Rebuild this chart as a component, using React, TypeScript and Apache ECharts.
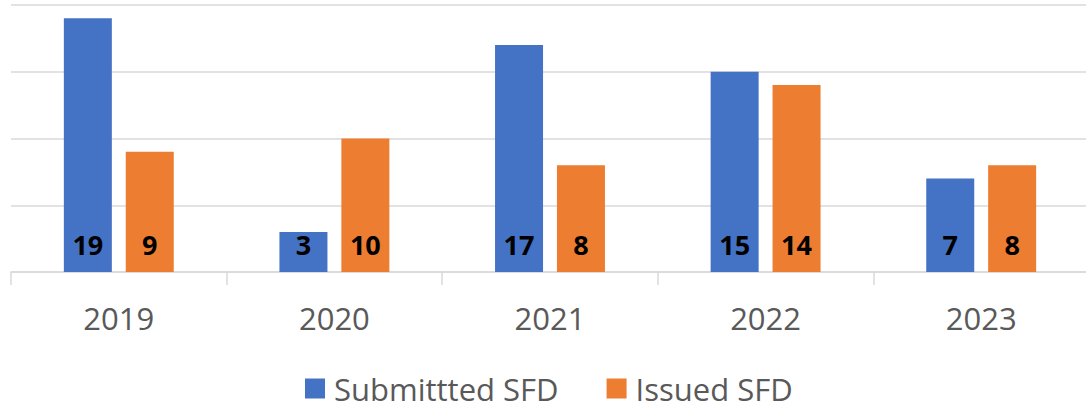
import React, { useEffect, useRef } from "react";
import * as echarts from "echarts";

const years = ["2019", "2020", "2021", "2022", "2023"];
const submitted = [19, 3, 17, 15, 7];
const issued = [9, 10, 8, 14, 8];

export default function App() {
  const ref = useRef<HTMLDivElement>(null);
  useEffect(() => {
    if (!ref.current) return;
    const chart = echarts.init(ref.current, undefined, { renderer: "svg" });
    const labelStyle = {
      show: true,
      position: "insideBottom" as const,
      distance: 14,
      color: "#000000",
      fontWeight: "bold" as const,
      fontSize: 27,
      fontFamily: "Open Sans",
    };
    chart.setOption({
      animation: false,
      backgroundColor: "#ffffff",
      grid: { left: 11, top: 5, right: 7, height: 267, containLabel: false },
      legend: {
        bottom: 0,
        left: 300,
        itemWidth: 20,
        itemHeight: 20,
        itemGap: 48,
        icon: "rect",
        textStyle: { fontSize: 31, color: "#595959", fontFamily: "Open Sans", padding: [0, 0, 0, 4] },
        data: ["Submittted SFD", "Issued SFD"],
      },
      xAxis: {
        type: "category",
        data: years,
        axisLine: { lineStyle: { color: "#d9d9d9", width: 1.5 } },
        axisTick: { show: true, length: 13, alignWithLabel: false, lineStyle: { color: "#d9d9d9", width: 1.5 } },
        axisLabel: { fontSize: 31, color: "#595959", fontFamily: "Open Sans", margin: 30 },
      },
      yAxis: {
        type: "value",
        min: 0,
        max: 20,
        interval: 5,
        axisLabel: { show: false },
        axisLine: { show: false },
        axisTick: { show: false },
        splitLine: { lineStyle: { color: "#d9d9d9", width: 1.5 } },
      },
      series: [
        {
          name: "Submittted SFD",
          type: "bar",
          data: submitted,
          itemStyle: { color: "#4472C4" },
          barWidth: 48,
          barGap: "29%",
          label: labelStyle,
        },
        {
          name: "Issued SFD",
          type: "bar",
          data: issued,
          itemStyle: { color: "#ED7D31" },
          barWidth: 48,
          barGap: "29%",
          label: labelStyle,
        },
      ],
    });
    return () => chart.dispose();
  }, []);
  return (
    <div style={{ position: "fixed", left: 0, top: 0, width: 1086, height: 409, overflow: "hidden" }}>
      <div ref={ref} style={{ width: 1096, height: 409 }} />
    </div>
  );
}
